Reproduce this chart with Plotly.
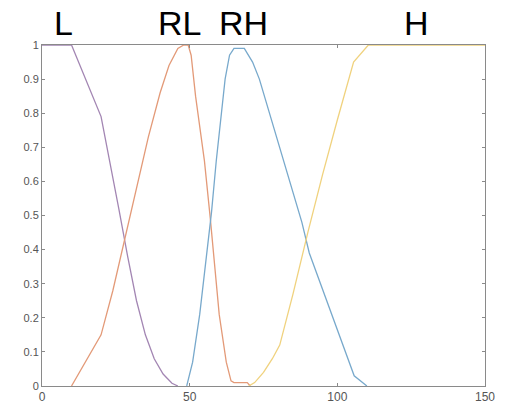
import plotly.graph_objects as go

# Membership functions
L_x = [0, 10, 20, 23, 26, 29, 32, 35, 38, 41, 44, 46]
L_y = [1, 1, 0.79, 0.66, 0.52, 0.38, 0.25, 0.15, 0.08, 0.035, 0.008, 0]

RL_x = [10, 20, 24, 28, 32, 36, 40, 43, 46, 48, 49.5, 50.5, 52, 55, 57, 58.5, 60, 62.4, 64, 65, 69.5, 70.5]
RL_y = [0, 0.15, 0.28, 0.43, 0.58, 0.73, 0.86, 0.94, 0.99, 1.0, 1.0, 0.97, 0.85, 0.66, 0.49, 0.35, 0.21, 0.07, 0.015, 0.01, 0.01, 0]

RH_x = [49, 51, 53.4, 55.5, 57.4, 59, 60.5, 62, 63.5, 65, 68.5, 71.3, 73.6, 77, 80, 84, 88, 90.5, 105.7, 110]
RH_y = [0, 0.07, 0.21, 0.36, 0.51, 0.66, 0.79, 0.9, 0.97, 0.99, 0.99, 0.95, 0.9, 0.8, 0.71, 0.6, 0.48, 0.39, 0.03, 0]

H_x = [70, 72, 75, 78, 80.5, 85, 90, 95, 100, 105.5, 110.5, 150]
H_y = [0, 0.01, 0.04, 0.08, 0.12, 0.27, 0.45, 0.62, 0.78, 0.95, 1, 1]

labels = ["L", "RL", "RH", "H"]
label_x = [7.4, 46.6, 68.1, 126.9]

x_ticks = [0, 50, 100, 150]
y_ticks = [0, 0.1, 0.2, 0.3, 0.4, 0.5, 0.6, 0.7, 0.8, 0.9, 1]
y_tick_text = ["0", "0.1", "0.2", "0.3", "0.4", "0.5", "0.6", "0.7", "0.8", "0.9", "1"]

series = [
    (L_x, L_y, "#a386b3"),
    (RL_x, RL_y, "#e39a78"),
    (RH_x, RH_y, "#78a9cc"),
    (H_x, H_y, "#f0d27e"),
]

fig = go.Figure()
for xs, ys, c in series:
    fig.add_trace(go.Scatter(x=xs, y=ys, mode="lines", hoverinfo="skip",
                             line=dict(color=c, width=1.3), showlegend=False))

for t, xv in zip(labels, label_x):
    fig.add_annotation(x=xv, y=1.0655, xref="x", yref="paper", text=t,
                       showarrow=False, xanchor="center", yanchor="middle",
                       font=dict(family="Liberation Sans", size=34, color="black"))

axis_common = dict(showgrid=False, zeroline=False, showline=True, linecolor="#8a8a8a",
                   linewidth=1, mirror="ticks", ticks="inside", ticklen=3,
                   tickcolor="#8a8a8a", tickfont=dict(family="Liberation Sans", size=11, color="#555555"))

fig.update_xaxes(range=[0, 150], tickvals=x_ticks, ticktext=[str(v) for v in x_ticks], **axis_common)
fig.update_yaxes(range=[0, 1], tickvals=y_ticks, ticktext=y_tick_text, **axis_common)
fig.update_xaxes(tickfont=dict(family="Liberation Sans", size=12, color="#555555"))

fig.update_layout(width=507, height=416, margin=dict(l=42, r=21, t=45, b=23),
                  plot_bgcolor="white", paper_bgcolor="white")

# remove the default page margin so the figure fills the window exactly
fig.write_html("out.html", config={"displayModeBar": False},
               post_script="document.body.style.margin='0';")
